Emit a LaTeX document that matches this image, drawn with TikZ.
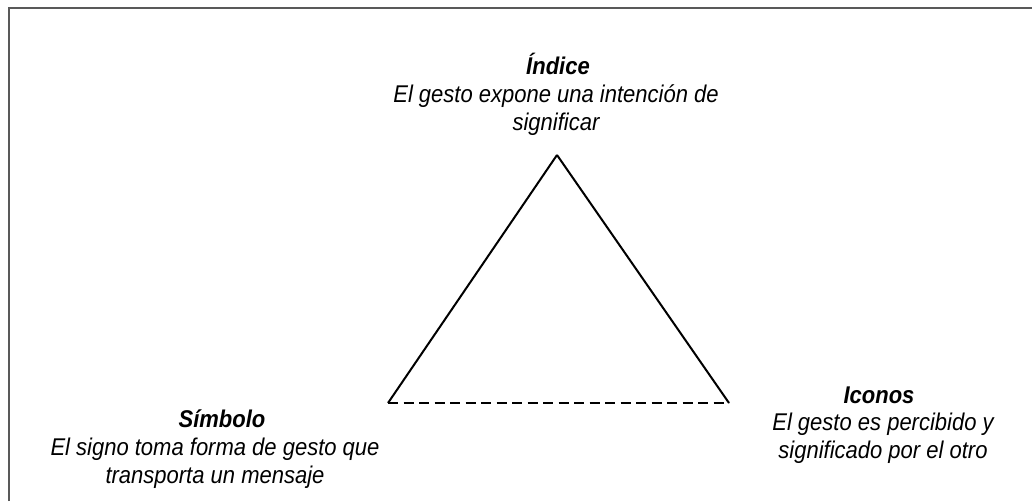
\documentclass[tikz,border=0pt]{standalone}
\usepackage{fontspec}
\setmainfont{Liberation Sans}
\usetikzlibrary{positioning}

\tikzset{
  titulo/.style = {font=\fontsize{22}{25}\selectfont\bfseries\itshape, inner sep=0pt, anchor=base, yscale=1.1, transform shape},
  texto/.style  = {font=\fontsize{22}{25}\selectfont\itshape, align=center, inner sep=0pt, anchor=base, yscale=1.1, transform shape},
  lado/.style   = {line width=2pt},
}

\begin{document}
\begin{tikzpicture}[x=1pt, y=-1pt]
        \useasboundingbox (0, 0) rectangle (1032, 501);
        \draw[line width=2pt, black!65] (8.5, 501) -- (8.5, 7.5) -- (1032, 7.5);

        \coordinate (1) at (557, 155);
        \coordinate (2) at (388, 403);
        \coordinate (3) at (729, 403);

        \node (4) [titulo] at (558, 74)   {Índice};
        \node (5) [texto]  at (556, 130)  {El gesto expone una intención de\\significar};
        \node (6) [titulo] at (222, 427)  {Símbolo};
        \node (7) [texto]  at (215, 483)  {El signo toma forma de gesto que\\transporta un mensaje};
        \node (8) [titulo] at (879, 403)  {Iconos};
        \node (9) [texto]  at (883, 458)  {El gesto es percibido y\\significado por el otro};

        \draw[lado, line join=miter] (2) edge (1);
        \draw[lado]                  (1) edge (3);
        \draw[lado, dash pattern=on 10pt off 5.5pt] (2) edge (3);
\end{tikzpicture}
\end{document}
